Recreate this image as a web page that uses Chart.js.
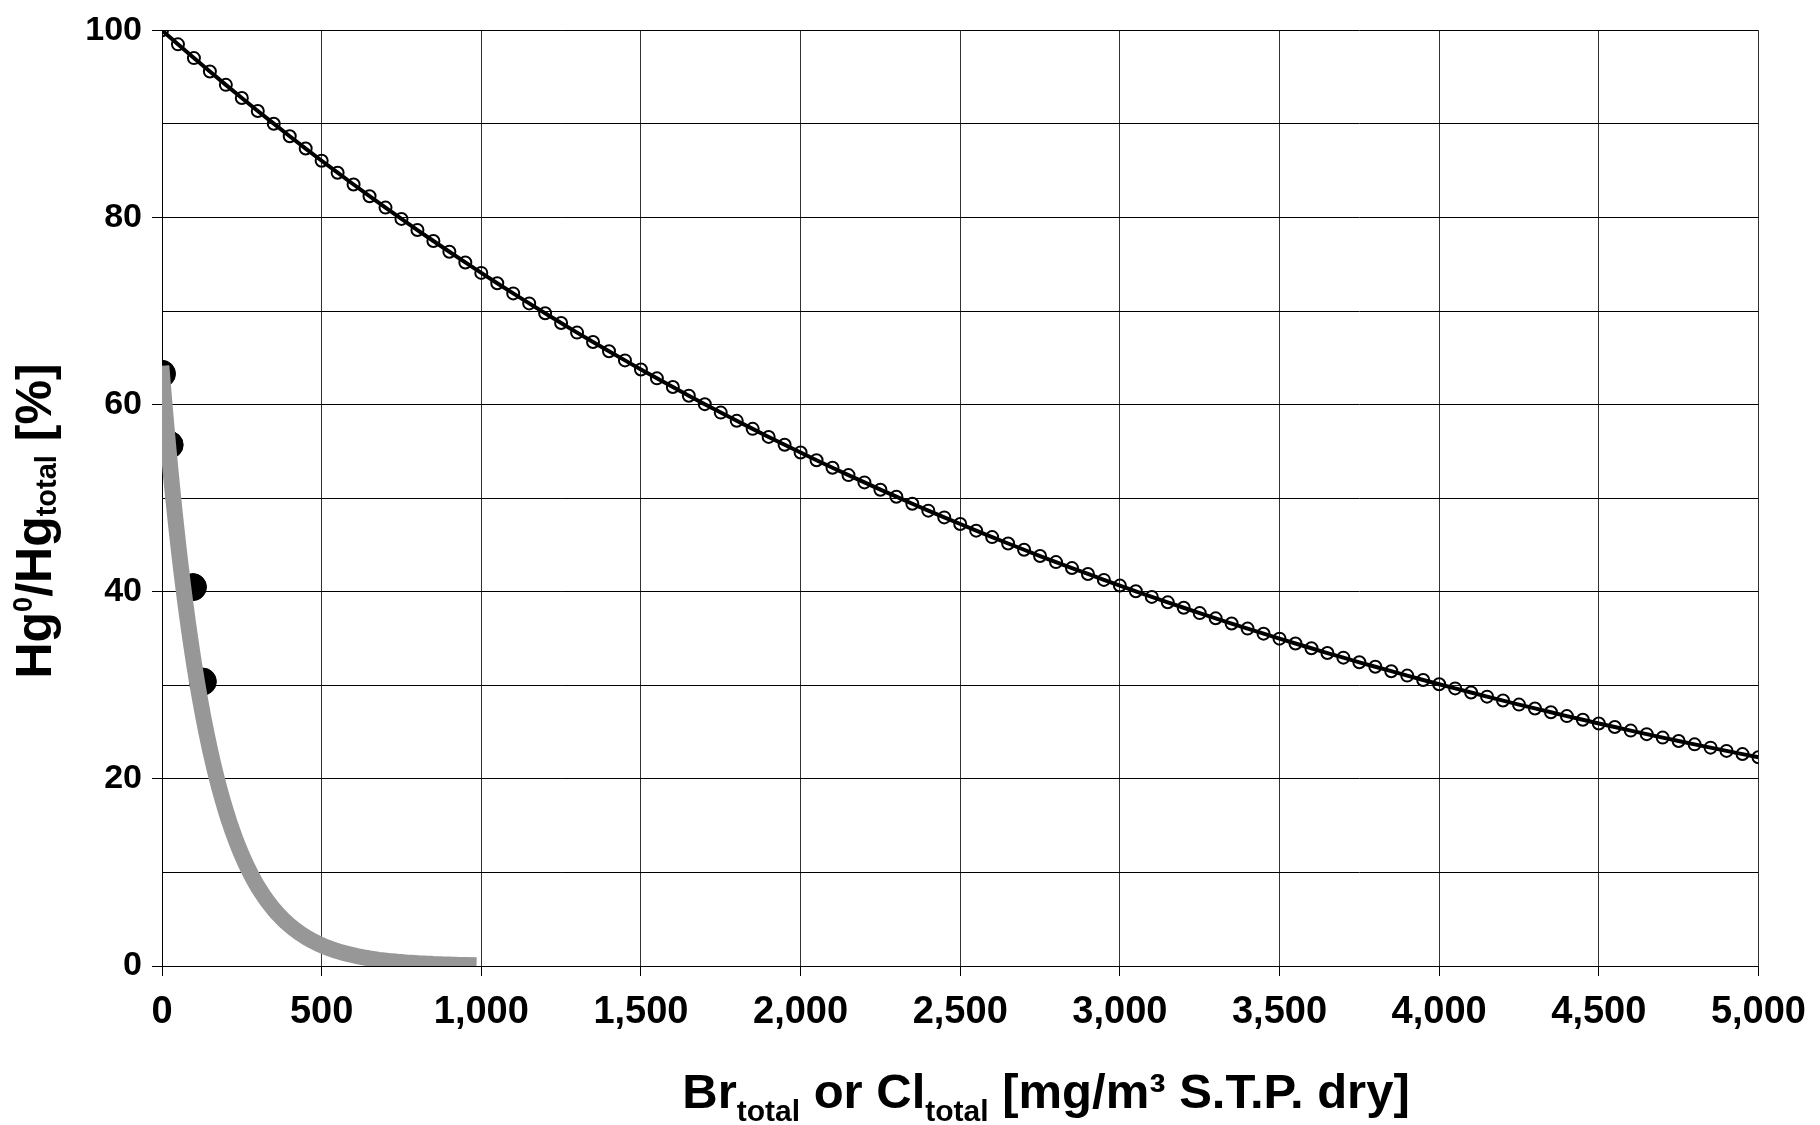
<!DOCTYPE html>
<html>
<head>
<meta charset="utf-8">
<script src="https://cdn.jsdelivr.net/npm/chart.js@4/dist/chart.umd.min.js"></script>
<style>
  html, body { margin: 0; padding: 0; background: #fff; }
</style>
</head>
<body>
<canvas id="chart" width="1820" height="1125"></canvas>
<script>
// Model curve for Br (black line with open circles), every 50 mg/m3
const brModelX = [
  0, 50, 100, 150, 200, 250, 300, 350, 400, 450, 500, 550, 600, 650, 700, 750, 800, 850, 900, 950,
  1000, 1050, 1100, 1150, 1200, 1250, 1300, 1350, 1400, 1450, 1500, 1550, 1600, 1650, 1700, 1750, 1800, 1850, 1900, 1950,
  2000, 2050, 2100, 2150, 2200, 2250, 2300, 2350, 2400, 2450, 2500, 2550, 2600, 2650, 2700, 2750, 2800, 2850, 2900, 2950,
  3000, 3050, 3100, 3150, 3200, 3250, 3300, 3350, 3400, 3450, 3500, 3550, 3600, 3650, 3700, 3750, 3800, 3850, 3900, 3950,
  4000, 4050, 4100, 4150, 4200, 4250, 4300, 4350, 4400, 4450, 4500, 4550, 4600, 4650, 4700, 4750, 4800, 4850, 4900, 4950,
  5000,
];
const brModelY = [
  100, 98.51, 97.04, 95.6, 94.18, 92.77, 91.39, 90.03, 88.69, 87.37, 86.07, 84.79, 83.53, 82.28, 81.06, 79.85, 78.66, 77.49, 76.34, 75.2,
  74.08, 72.98, 71.89, 70.82, 69.77, 68.73, 67.7, 66.7, 65.7, 64.73, 63.76, 62.81, 61.88, 60.95, 60.05, 59.15, 58.27, 57.41, 56.55, 55.71,
  54.88, 54.06, 53.26, 52.47, 51.69, 50.91, 50.16, 49.41, 48.67, 47.95, 47.24, 46.53, 45.84, 45.16, 44.49, 43.82, 43.17, 42.53, 41.9, 41.27,
  40.66, 40.05, 39.45, 38.87, 38.29, 37.72, 37.16, 36.6, 36.06, 35.52, 34.99, 34.47, 33.96, 33.45, 32.96, 32.46, 31.98, 31.51, 31.04, 30.57,
  30.12, 29.67, 29.23, 28.79, 28.37, 27.94, 27.53, 27.12, 26.71, 26.32, 25.92, 25.54, 25.16, 24.78, 24.41, 24.05, 23.69, 23.34, 22.99, 22.65,
  22.31,
];

// Model curve for Cl (thick grey band of square markers)
const clModelX = [
  0, 5, 10, 15, 20, 25, 30, 35, 40, 45, 50, 55, 60, 65, 70, 75, 80, 85, 90, 95, 100,
  110, 120, 130, 140, 150, 160, 170, 180, 190,
  200, 210, 220, 230, 240, 250, 260, 270, 280, 290,
  300, 310, 320, 330, 340, 350, 360, 370, 380, 390,
  400, 410, 420, 430, 440, 450, 460, 470, 480, 490,
  500, 510, 520, 530, 540, 550, 560, 570, 580, 590,
  600, 610, 620, 630, 640, 650, 660, 670, 680, 690,
  700, 710, 720, 730, 740, 750, 760, 770, 780, 790,
  800, 810, 820, 830, 840, 850, 860, 870, 880, 890,
  900, 910, 920, 930, 940, 950, 960,
];
const clModelY = [
  63.3, 61.21, 59.2, 57.25, 55.36, 53.54, 51.77, 50.07, 48.42, 46.82, 45.28, 43.79, 42.35, 40.95, 39.6, 38.3, 37.04, 35.82, 34.64, 33.49, 32.39,
  30.29, 28.33, 26.49, 24.78, 23.17, 21.67, 20.26, 18.95, 17.72,
  16.58, 15.5, 14.5, 13.56, 12.68, 11.86, 11.09, 10.37, 9.7, 9.07,
  8.48, 7.93, 7.42, 6.94, 6.49, 6.07, 5.67, 5.31, 4.96, 4.64,
  4.34, 4.06, 3.8, 3.55, 3.32, 3.1, 2.9, 2.72, 2.54, 2.37,
  2.22, 2.08, 1.94, 1.82, 1.7, 1.59, 1.49, 1.39, 1.3, 1.22,
  1.14, 1.06, 0.99, 0.93, 0.87, 0.81, 0.76, 0.71, 0.66, 0.62,
  0.58, 0.54, 0.51, 0.48, 0.44, 0.42, 0.39, 0.36, 0.34, 0.32,
  0.3, 0.28, 0.26, 0.24, 0.23, 0.21, 0.2, 0.19, 0.17, 0.16,
  0.15, 0.14, 0.13, 0.12, 0.12, 0.11, 0.1,
];

// Measured points (filled black dots)
const measuredX = [0, 24, 97, 128];
const measuredY = [63.3, 55.7, 40.5, 30.4];

const FONT = '"Liberation Sans", Arial, Helvetica, sans-serif';

const toPoints = (xs, ys) => xs.map((x, i) => ({ x, y: ys[i] }));

// Draws text made of parts (normal / sub / superscript) starting at x, baseline y.
const drawParts = (ctx, parts, x, y) => {
  let cx = x;
  parts.forEach((p) => {
    ctx.font = `bold ${p.size}px ${FONT}`;
    ctx.fillText(p.text, cx, y + (p.dy || 0));
    cx += ctx.measureText(p.text).width;
  });
};

const partsWidth = (ctx, parts) =>
  parts.reduce((w, p) => {
    ctx.font = `bold ${p.size}px ${FONT}`;
    return w + ctx.measureText(p.text).width;
  }, 0);

const xTitleParts = [
  { text: 'Br', size: 49 },
  { text: 'total', size: 30, dy: 13 },
  { text: ' or Cl', size: 49 },
  { text: 'total', size: 30, dy: 13 },
  { text: ' [mg/m³ S.T.P. dry]', size: 49 },
];

const yTitleParts = [
  { text: 'Hg', size: 50 },
  { text: '0', size: 27, dy: -19 },
  { text: '/Hg', size: 50 },
  { text: 'total', size: 29, dy: 5 },
  { text: ' [%]', size: 50 },
];

const axisTitlePlugin = {
  id: 'axisTitles',
  afterDraw: (chart) => {
    const ctx = chart.ctx;
    ctx.save();
    ctx.fillStyle = '#000';
    ctx.textBaseline = 'alphabetic';
    ctx.textAlign = 'left';

    const xw = partsWidth(ctx, xTitleParts);
    drawParts(ctx, xTitleParts, 1046 - xw / 2, 1108);

    const yw = partsWidth(ctx, yTitleParts);
    ctx.translate(51, 521);
    ctx.rotate(-Math.PI / 2);
    drawParts(ctx, yTitleParts, -yw / 2, 0);
    ctx.restore();
  },
};

new Chart(document.getElementById('chart').getContext('2d'), {
  type: 'scatter',
  data: {
    datasets: [
      {
        label: 'Br model',
        data: toPoints(brModelX, brModelY),
        showLine: true,
        borderColor: '#000',
        borderWidth: 4,
        pointStyle: 'circle',
        pointRadius: 6,
        pointBorderWidth: 2,
        pointBorderColor: '#000',
        pointBackgroundColor: 'rgba(0,0,0,0)',
        order: 1,
      },
      {
        label: 'Cl model',
        data: toPoints(clModelX, clModelY),
        showLine: true,
        borderColor: '#979797',
        borderWidth: 16,
        borderCapStyle: 'square',
        borderJoinStyle: 'round',
        pointRadius: 0,
        order: 2,
      },
      {
        label: 'Measured',
        data: toPoints(measuredX, measuredY),
        pointStyle: 'circle',
        pointRadius: 13.5,
        pointBackgroundColor: '#000',
        pointBorderColor: '#000',
        order: 3,
      },
    ],
  },
  options: {
    responsive: false,
    animation: false,
    devicePixelRatio: 1,
    layout: { padding: { top: 30, right: 58, left: 0, bottom: 0 } },
    plugins: {
      legend: { display: false },
      tooltip: { enabled: false },
    },
    scales: {
      x: {
        type: 'linear',
        min: 0,
        max: 5000,
        afterFit: (scale) => {
          scale.height = 159;
        },
        ticks: {
          stepSize: 500,
          autoSkip: false,
          maxRotation: 0,
          padding: 14,
          color: '#000',
          font: { family: FONT, size: 38, weight: 'bold' },
          callback: (value) => value.toLocaleString('en-US'),
        },
        grid: { color: '#333', lineWidth: 1, tickLength: 10, tickColor: '#000' },
        border: { color: '#000', width: 1 },
      },
      y: {
        min: 0,
        max: 100,
        afterFit: (scale) => {
          scale.width = 162;
        },
        ticks: {
          stepSize: 10,
          padding: 10,
          color: '#000',
          font: { family: FONT, size: 34, weight: 'bold' },
          callback: (value) => (value % 20 === 0 ? value : ''),
        },
        grid: {
          color: '#000',
          lineWidth: 1,
          tickLength: 10,
          tickColor: (context) => (context.tick && context.tick.value % 20 === 0 ? '#000' : 'rgba(0,0,0,0)'),
        },
        border: { color: '#000', width: 1 },
      },
    },
  },
  plugins: [axisTitlePlugin],
});
</script>
</body>
</html>
